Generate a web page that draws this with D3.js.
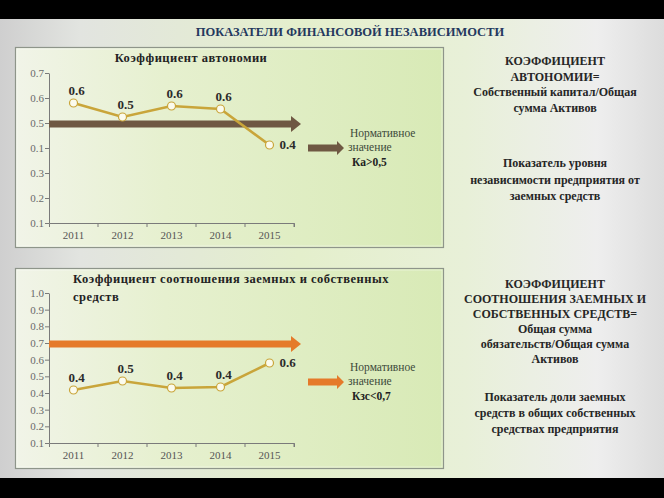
<!DOCTYPE html>
<html><head><meta charset="utf-8">
<script src="https://cdn.jsdelivr.net/npm/d3@7"></script>
<style>body{margin:0;padding:0;overflow:hidden;background:#000}svg{display:block}
text{font-family:'Liberation Serif','Times New Roman','DejaVu Serif',serif}</style>
</head><body><svg id="c" width="664" height="498"></svg>
<script>
const years = ["2011","2012","2013","2014","2015"];
const autonomy = [0.58, 0.524, 0.568, 0.556, 0.412];
const autonomyLabels = ["0.6","0.5","0.6","0.6","0.4"];
const autonomyTicks = [0.1,0.2,0.3,0.4,0.5,0.6,0.7];
const autonomyTickLabels = ["0.1","0.2","0.3","0.1","0.5","0.6","0.7"];
const autonomyNorm = 0.5;
const debtRatio = [0.418, 0.472, 0.43, 0.436, 0.58];
const debtLabels = ["0.4","0.5","0.4","0.4","0.6"];
const debtTicks = [0.1,0.2,0.3,0.4,0.5,0.6,0.7,0.8,0.9,1.0];
const debtTickLabels = ["0.1","0.2","0.3","0.4","0.5","0.6","0.7","0.8","0.9","1.0"];
const debtNorm = 0.7;

const FF = "Liberation Serif";
const svg = d3.select("#c");
const defs = svg.append("defs");
const bg = defs.append("linearGradient").attr("id","bg");
[[0,"#cfcfcf"],[0.12,"#e2e4e0"],[0.45,"#e4efcc"],[0.7,"#e8f0d8"],[0.9,"#eeeeee"],[1,"#dcdcdc"]]
  .forEach(([o,c])=>bg.append("stop").attr("offset",o).attr("stop-color",c));
const pg = defs.append("linearGradient").attr("id","pg");
[[0,"#f1f4e8"],[0.35,"#e6f0cf"],[1,"#d8eab6"]]
  .forEach(([o,c])=>pg.append("stop").attr("offset",o).attr("stop-color",c));

svg.append("rect").attr("width",664).attr("height",498).attr("fill","#000");
svg.append("rect").attr("y",19).attr("width",664).attr("height",459).attr("fill","url(#bg)");

svg.append("text").attr("x",350).attr("y",36).attr("text-anchor","middle")
  .attr("font-family",FF).attr("font-weight","bold").attr("font-size",12.5)
  .attr("fill","#24385e").text("ПОКАЗАТЕЛИ ФИНАНСОВОЙ НЕЗАВИСИМОСТИ");

function panel(top, bottom, yMin, yMax, yTop, yBot, ticks, tickLabels, values, labels, norm, arrowColor, titleLines, titleX, titleAnchor, legY, legLines) {
  svg.append("rect").attr("x",15.5).attr("y",top+0.5).attr("width",428).attr("height",bottom-top)
    .attr("fill","url(#pg)").attr("stroke","#8e958a").attr("stroke-width",1.2);
  svg.append("rect").attr("x",17).attr("y",top+2).attr("width",425).attr("height",bottom-top-3)
    .attr("fill","none").attr("stroke","#ffffff").attr("stroke-opacity",0.5).attr("stroke-width",0.8);
  const x = d3.scaleBand().domain(years).range([49, 294]);
  const y = d3.scaleLinear().domain([yMin,yMax]).range([yBot,yTop]);
  const g = svg.append("g");
  const ya = d3.axisLeft(y).tickValues(ticks).tickFormat((d,i)=>tickLabels[i]).tickSize(4).tickSizeOuter(0);
  const yg = g.append("g").attr("transform","translate(49,0)").call(ya);
  yg.selectAll("text").attr("font-family",FF).attr("font-size",11).attr("fill","#6a6a6a").attr("dx",2);
  yg.selectAll("line,path").attr("stroke","#7a7a7a");
  const xa = d3.axisBottom(x).tickSize(4).tickSizeOuter(4);
  const xg = g.append("g").attr("transform",`translate(0,${yBot})`).call(xa);
  xg.selectAll(".tick line").attr("transform",`translate(${x.bandwidth()/2},0)`);
  xg.selectAll("text").attr("font-family",FF).attr("font-size",11).attr("fill","#555").attr("dy","0.85em");
  xg.selectAll("line,path").attr("stroke","#7a7a7a");
  const t = svg.append("text").attr("font-family",FF).attr("font-weight","bold")
    .attr("font-size",12.5).attr("fill","#222").attr("text-anchor",titleAnchor).attr("letter-spacing",0.5);
  titleLines.forEach((l,i)=>t.append("tspan").attr("x",titleX).attr("y",top+15+i*18).text(l));
  const ay = y(norm)+1;
  svg.append("path").attr("d",`M49,${ay-3.5}H291V${ay-8}L301,${ay}L291,${ay+8}V${ay+3.5}H49Z`).attr("fill",arrowColor);
  const cx = (d,i)=>x(years[i])+x.bandwidth()/2;
  const line = d3.line().x(cx).y(d=>y(d));
  svg.append("path").datum(values).attr("d",line).attr("fill","none").attr("stroke","#c9a53a").attr("stroke-width",2.6);
  svg.selectAll(null).data(values).enter().append("circle").attr("cx",cx).attr("cy",d=>y(d)).attr("r",4)
    .attr("fill","#fbfbee").attr("stroke","#c9a53a").attr("stroke-width",1.2);
  svg.selectAll(null).data(values).enter().append("text")
    .attr("x",(d,i)=> i===4 ? cx(d,i)+18 : cx(d,i)+3)
    .attr("y",(d,i)=> i===4 ? y(d)+4 : y(d)-8)
    .attr("text-anchor","middle").attr("font-family",FF).attr("font-weight","bold")
    .attr("font-size",13).attr("fill","#2b2b2b").text((d,i)=>labels[i]);
  svg.append("path").attr("d",`M308,${legY-3.5}H337V${legY-7}L344,${legY}L337,${legY+7}V${legY+3.5}H308Z`).attr("fill",arrowColor);
  const lt = svg.append("text").attr("font-family",FF).attr("font-size",11.5).attr("fill","#3d4a3a");
  lt.append("tspan").attr("x",350).attr("y",legY-11).text(legLines[0]);
  lt.append("tspan").attr("x",348).attr("y",legY+3).text(legLines[1]);
  lt.append("tspan").attr("x",352).attr("y",legY+18).attr("font-weight","bold").attr("fill","#222").text(legLines[2]);
}

panel(47, 247, 0.1, 0.7, 73, 223, autonomyTicks, autonomyTickLabels, autonomy, autonomyLabels, autonomyNorm, "#6f5843",
  ["Коэффициент автономии"], 191, "middle", 148, ["Нормативное","значение","Ка>0,5"]);
panel(268, 468, 0.1, 1.0, 293, 443, debtTicks, debtTickLabels, debtRatio, debtLabels, debtNorm, "#e57a2a",
  ["Коэффициент соотношения заемных и собственных","средств"], 73, "start", 382, ["Нормативное","значение","Кзс<0,7"]);

function block(lines, y0, dy) {
  const t = svg.append("text").attr("font-family",FF).attr("font-weight","bold")
    .attr("font-size",12).attr("fill","#262626").attr("text-anchor","middle");
  lines.forEach((l,i)=>t.append("tspan").attr("x",555).attr("y",y0+i*dy).text(l));
}
block(["КОЭФФИЦИЕНТ","АВТОНОМИИ=","Собственный капитал/Общая","сумма Активов"], 65, 15.5);
block(["Показатель уровня","независимости предприятия от","заемных средств"], 167, 16.5);
block(["КОЭФФИЦИЕНТ","СООТНОШЕНИЯ ЗАЕМНЫХ И","СОБСТВЕННЫХ СРЕДСТВ=","Общая сумма","обязательств/Общая сумма","Активов"], 288, 15);
block(["Показатель доли заемных","средств в общих собственных","средствах предприятия"], 401, 16);
</script></body></html>
